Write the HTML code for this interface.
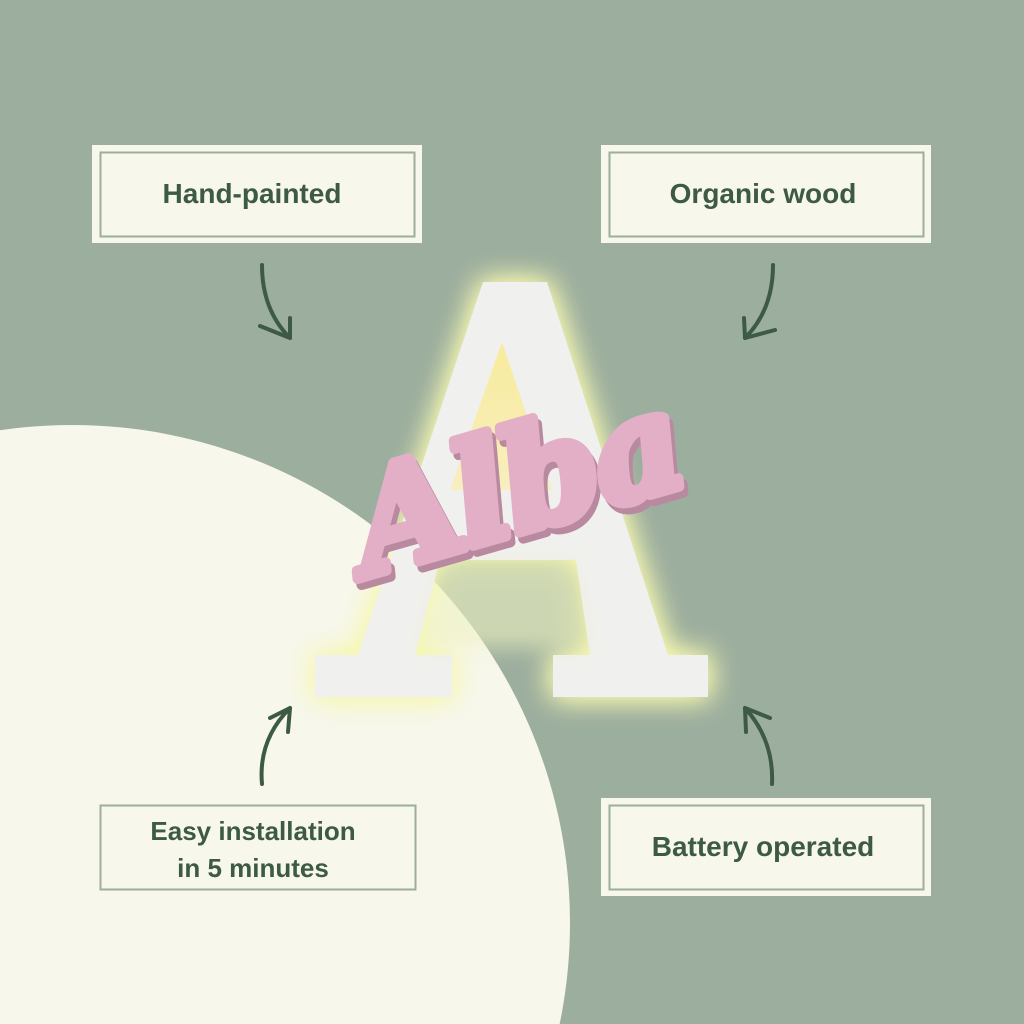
<!DOCTYPE html>
<html><head><meta charset="utf-8"><style>
html,body{margin:0;padding:0;width:1024px;height:1024px;overflow:hidden;background:#9cae9e}
svg{display:block;position:absolute;left:0;top:0}
</style></head><body>
<svg width="1024" height="1024" viewBox="0 0 1024 1024" xmlns="http://www.w3.org/2000/svg">
<defs>
<filter id="glow" x="-30%" y="-30%" width="160%" height="160%">
<feGaussianBlur in="SourceAlpha" stdDeviation="14" result="b"/>
<feFlood flood-color="#f6f7b0" flood-opacity="1"/>
<feComposite in2="b" operator="in" result="g"/>
<feMerge><feMergeNode in="g"/><feMergeNode in="g"/><feMergeNode in="SourceGraphic"/></feMerge>
</filter>
<filter id="soft" x="-30%" y="-30%" width="160%" height="160%"><feGaussianBlur stdDeviation="10"/></filter>
<linearGradient id="cnt" x1="0" y1="0" x2="0" y2="1">
<stop offset="0" stop-color="#f7ec9c"/><stop offset="1" stop-color="#f8eebf"/></linearGradient>
</defs>
<rect width="1024" height="1024" fill="#9cae9e"/>
<circle cx="72" cy="923" r="498" fill="#f7f7ec"/>

<g filter="url(#glow)">
<path d="M483,282 L547,282 L668,655 L708,655 L708,697 L553,697 L553,655 L590,655 L576,560 L440,560 L415,655 L452,655 L452,697 L315,697 L315,655 L358,655 Z" fill="#f0f0ee"/>
</g>
<path d="M445,565 L572,565 L585,648 L422,648 Z" fill="#eef2c0" opacity="0.6" filter="url(#soft)"/>
<path d="M502,342 L450,490 L552,490 Z" fill="url(#cnt)"/>

<g font-family="DejaVu Serif, serif" font-style="italic" font-weight="bold" font-size="140" letter-spacing="-4">
<text transform="translate(372,582) rotate(-16)" fill="#b9899f" stroke="#b9899f" stroke-width="10" stroke-linejoin="round">Alba</text>
<text transform="translate(368,576) rotate(-16)" fill="#e3afc6" stroke="#e3afc6" stroke-width="10" stroke-linejoin="round">Alba</text>
</g>

<rect x="92" y="145" width="330" height="98" fill="#f7f7ec"/>
<rect x="100.5" y="152.5" width="314" height="84" fill="none" stroke="#9cae9e" stroke-width="2"/>
<text x="252" y="203" text-anchor="middle" font-family="Liberation Sans, sans-serif" font-weight="bold" font-size="28" fill="#3d5a45">Hand-painted</text>

<rect x="601" y="145" width="330" height="98" fill="#f7f7ec"/>
<rect x="609.5" y="152.5" width="314" height="84" fill="none" stroke="#9cae9e" stroke-width="2"/>
<text x="763" y="203" text-anchor="middle" font-family="Liberation Sans, sans-serif" font-weight="bold" font-size="28" fill="#3d5a45">Organic wood</text>

<rect x="100.5" y="805.5" width="315" height="84" fill="none" stroke="#9cae9e" stroke-width="2"/>
<text x="253" y="840" text-anchor="middle" font-family="Liberation Sans, sans-serif" font-weight="bold" font-size="26" fill="#3d5a45">Easy installation</text>
<text x="253" y="877" text-anchor="middle" font-family="Liberation Sans, sans-serif" font-weight="bold" font-size="26" fill="#3d5a45">in 5 minutes</text>

<rect x="601" y="798" width="330" height="98" fill="#f7f7ec"/>
<rect x="609.5" y="805.5" width="314" height="84" fill="none" stroke="#9cae9e" stroke-width="2"/>
<text x="763" y="856" text-anchor="middle" font-family="Liberation Sans, sans-serif" font-weight="bold" font-size="28" fill="#3d5a45">Battery operated</text>

<g fill="none" stroke="#3d5a45" stroke-width="4" stroke-linecap="round" stroke-linejoin="round">
<path d="M262,265 Q262,310 290,338"/>
<path d="M260,326 L290,338 L290,318"/>
<path d="M773,265 Q773,310 745,338"/>
<path d="M744,318 L745,338 L775,330"/>
<path d="M262,784 Q258,740 290,708"/>
<path d="M270,718 L290,708 L288,732"/>
<path d="M772,784 Q774,740 745,708"/>
<path d="M746,732 L745,708 L770,718"/>
</g>
</svg>
</body></html>
